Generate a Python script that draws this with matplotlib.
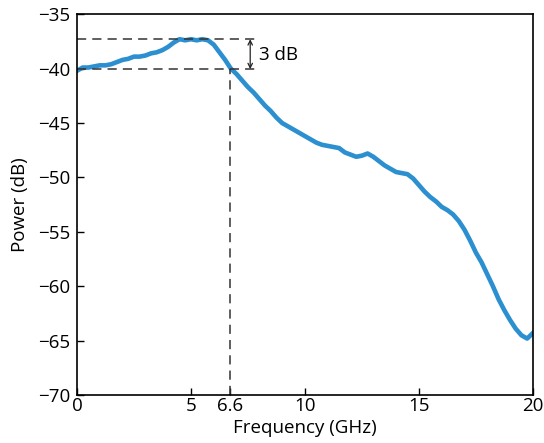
import matplotlib
matplotlib.use("Agg")
import matplotlib.pyplot as plt

plt.rcParams['font.family'] = ['Open Sans', 'DejaVu Sans']

freq_ghz = [0.00, 0.25, 0.50, 0.75, 1.00, 1.25, 1.50, 1.75, 2.00, 2.25,
            2.50, 2.75, 3.00, 3.25, 3.50, 3.75, 4.00, 4.25, 4.50, 4.75,
            5.00, 5.25, 5.50, 5.75, 6.00, 6.25, 6.50, 6.75, 7.00, 7.25,
            7.50, 7.75, 8.00, 8.25, 8.50, 8.75, 9.00, 9.25, 9.50, 9.75,
            10.00, 10.25, 10.50, 10.75, 11.00, 11.25, 11.50, 11.75, 12.00, 12.25,
            12.50, 12.75, 13.00, 13.25, 13.50, 13.75, 14.00, 14.25, 14.50, 14.75,
            15.00, 15.25, 15.50, 15.75, 16.00, 16.25, 16.50, 16.75, 17.00, 17.25,
            17.50, 17.75, 18.00, 18.25, 18.50, 18.75, 19.00, 19.25, 19.50, 19.75,
            20.00]
power_db = [-40.2, -39.9, -39.9, -39.8, -39.7, -39.7, -39.6, -39.4, -39.2, -39.1,
            -38.9, -38.9, -38.8, -38.6, -38.5, -38.3, -38.0, -37.6, -37.3, -37.4,
            -37.3, -37.4, -37.3, -37.4, -37.8, -38.5, -39.2, -40.0, -40.5, -41.1,
            -41.7, -42.2, -42.8, -43.4, -43.9, -44.5, -45.0, -45.3, -45.6, -45.9,
            -46.2, -46.5, -46.8, -47.0, -47.1, -47.2, -47.3, -47.7, -47.9, -48.1,
            -48.0, -47.8, -48.1, -48.5, -48.9, -49.2, -49.5, -49.6, -49.7, -50.1,
            -50.7, -51.3, -51.8, -52.2, -52.7, -53.0, -53.4, -54.0, -54.8, -55.8,
            -56.9, -57.8, -58.9, -60.0, -61.2, -62.2, -63.1, -63.9, -64.5, -64.8,
            -64.3]

x_ticks = [0, 5, 6.7, 10, 15, 20]
x_tick_labels = ["0", "5", "6.6", "10", "15", "20"]
y_ticks = [-70, -65, -60, -55, -50, -45, -40, -35]

peak_db = -37.3
cutoff_db = -40.05
cutoff_ghz = 6.7
marker_ghz = 7.6
line_end_ghz = 7.85

fig = plt.figure(figsize=(5.44, 4.43), dpi=100)
ax = fig.add_axes([0.1415, 0.108, 0.838, 0.86])

ax.plot(freq_ghz, power_db, color='#2b8fd0', linewidth=3.3, solid_joinstyle='round')

dash = dict(color='#333333', linewidth=1.1, linestyle=(0, (6, 4)))
ax.plot([0, line_end_ghz], [peak_db, peak_db], **dash)
ax.plot([0, line_end_ghz], [cutoff_db, cutoff_db], **dash)
ax.plot([cutoff_ghz, cutoff_ghz], [-70, cutoff_db], **dash)

ax.annotate('', xy=(marker_ghz, peak_db), xytext=(marker_ghz, cutoff_db),
            arrowprops=dict(arrowstyle='<->', color='#222222', lw=0.9,
                            shrinkA=0, shrinkB=0, mutation_scale=8))
ax.text(marker_ghz + 0.4, (peak_db + cutoff_db) / 2 - 0.1, '3 dB', fontsize=13.5,
        va='center', ha='left')

ax.set_xlim(0, 20)
ax.set_ylim(-70, -35)
ax.set_xticks(x_ticks)
ax.set_xticklabels(x_tick_labels)
ax.set_yticks(y_ticks)
ax.set_yticklabels([f"\u2212{abs(v)}" for v in y_ticks])
ax.tick_params(direction='in', length=5, width=1, labelsize=13.5,
               top=False, right=False)
ax.tick_params(axis='y', pad=5)
ax.tick_params(axis='x', pad=1)
for s in ax.spines.values():
    s.set_linewidth(1.2)

ax.set_xlabel('Frequency (GHz)', fontsize=13.5, labelpad=3)
ax.set_ylabel('Power (dB)', fontsize=13.5, labelpad=6)

fig.savefig('out.png', dpi=100)
